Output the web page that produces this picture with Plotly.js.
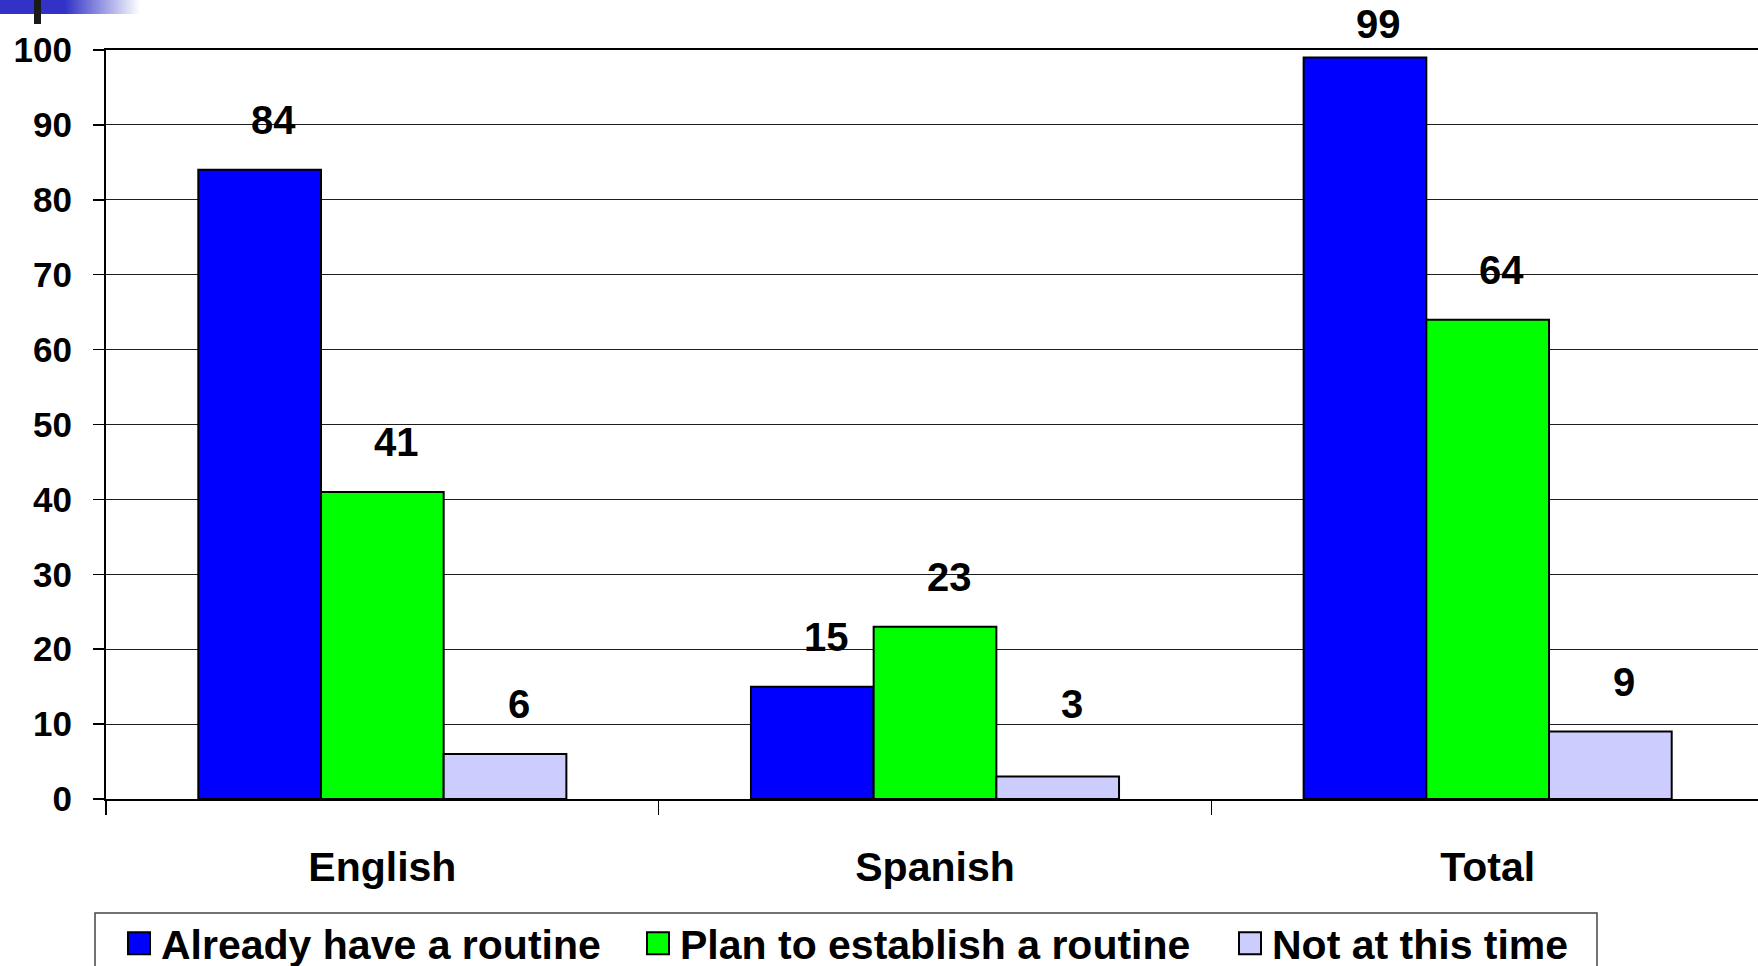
<!DOCTYPE html>
<html>
<head>
<meta charset="utf-8">
<script src="https://cdn.plot.ly/plotly-3.0.1.min.js"></script>
<style>
html, body { margin: 0; padding: 0; overflow: hidden; background: #ffffff; width: 1758px; height: 966px; }
#chart { position: absolute; left: 0; top: 0; }
#deco-bar { position: absolute; left: 0; top: 0; width: 140px; height: 14px; z-index: 5;
  background: linear-gradient(to right, #3232c8 0px, #3232c8 65px, #ffffff 140px); }
#deco-tick { position: absolute; left: 34px; top: 0; width: 7px; height: 24px; background: #1a1a1a; z-index: 6; }
</style>
</head>
<body>
<div id="chart"></div>
<div id="deco-bar"></div>
<div id="deco-tick"></div>
<script>
// ---- data ----
const categories = ['English', 'Spanish', 'Total'];
const seriesNames = ['Already have a routine', 'Plan to establish a routine', 'Not at this time'];
const alreadyHave = [84, 15, 99];
const planToEstablish = [41, 23, 64];
const notAtThisTime = [6, 3, 9];
const yTickValues = [0, 10, 20, 30, 40, 50, 60, 70, 80, 90, 100];

// ---- styling ----
const seriesColors = ['#0000ff', '#00ff00', '#ccccff'];
const legendEntryWidths = [470, 543, 320];
const FONT = 'Arial, "Liberation Sans", Helvetica, sans-serif';
const figW = 1770, figH = 966;
const margin = { l: 106, r: 6, t: 50, b: 167, autoexpand: false };
const plotW = figW - margin.l - margin.r;
const plotH = figH - margin.t - margin.b;
const bargap = 0.334;
const seriesValues = [alreadyHave, planToEstablish, notAtThisTime];

const traces = seriesValues.map((vals, s) => ({
  type: 'bar',
  name: seriesNames[s],
  x: categories,
  y: vals,
  legendwidth: legendEntryWidths[s],
  marker: { color: seriesColors[s], line: { color: '#000000', width: 2 } },
  hoverinfo: 'x+y+name'
}));

// data labels placed above each bar (kept within the figure and not too low)
const barW = plotW / categories.length * (1 - bargap) / seriesValues.length;
const annotations = [];
seriesValues.forEach((vals, s) => {
  vals.forEach((v, i) => {
    const barTopPx = margin.t + (1 - v / 100) * plotH;
    let centerPx = Math.min(barTopPx - 50, 704);
    if (centerPx < 24) centerPx = 24;
    annotations.push({
      x: categories[i], y: v, xref: 'x', yref: 'y',
      text: String(v), showarrow: false,
      xanchor: 'center', yanchor: 'middle',
      xshift: (s - (seriesValues.length - 1) / 2) * barW + 14,
      yshift: barTopPx - centerPx,
      font: { family: FONT, size: 40, color: '#000000', weight: 'bold' }
    });
  });
});

const pxToPaperX = px => (px - margin.l) / plotW;
const pxToPaperY = py => (margin.t + plotH - py) / plotH;

const layout = {
  width: figW, height: figH,
  margin: margin,
  paper_bgcolor: 'rgba(0,0,0,0)',
  plot_bgcolor: '#ffffff',
  barmode: 'group',
  bargap: bargap,
  bargroupgap: 0,
  showlegend: true,
  legend: {
    orientation: 'h',
    x: pxToPaperX(117), xanchor: 'left',
    y: pxToPaperY(910), yanchor: 'top',
    bgcolor: 'rgba(0,0,0,0)', borderwidth: 0,
    itemwidth: 34,
    font: { family: FONT, size: 41, color: '#000000', weight: 'bold' },
    traceorder: 'normal'
  },
  shapes: [{
    type: 'rect', xref: 'paper', yref: 'paper',
    x0: pxToPaperX(95), x1: pxToPaperX(1597),
    y0: pxToPaperY(1010), y1: pxToPaperY(913),
    line: { color: '#444444', width: 1.5 },
    fillcolor: 'rgba(0,0,0,0)'
  }],
  xaxis: {
    type: 'category',
    range: [-0.5, 2.5],
    showline: true, linecolor: '#000000', linewidth: 2, mirror: true,
    ticks: 'outside', tickson: 'boundaries', ticklen: 14, tickwidth: 1.5, tickcolor: '#000000',
    ticklabelstandoff: 31,
    showgrid: false, zeroline: false,
    tickfont: { family: FONT, size: 41, color: '#000000', weight: 'bold' }
  },
  yaxis: {
    range: [0, 100],
    tickvals: yTickValues,
    ticktext: yTickValues.map(String),
    showline: true, linecolor: '#000000', linewidth: 2,
    ticks: 'outside', ticklen: 11, tickwidth: 1.5, tickcolor: '#000000',
    ticklabelstandoff: 14,
    showgrid: true, gridcolor: '#1e1e1e', gridwidth: 1,
    zeroline: false,
    tickfont: { family: FONT, size: 35, color: '#000000', weight: 'bold' }
  },
  annotations: annotations
};

Plotly.newPlot('chart', traces, layout, { displayModeBar: false, staticPlot: true }).then(() => {
  document.querySelectorAll('.legendpoints path').forEach(p => p.setAttribute('d', 'M11,11H-11V-11H11Z'));
});
</script>
</body>
</html>
